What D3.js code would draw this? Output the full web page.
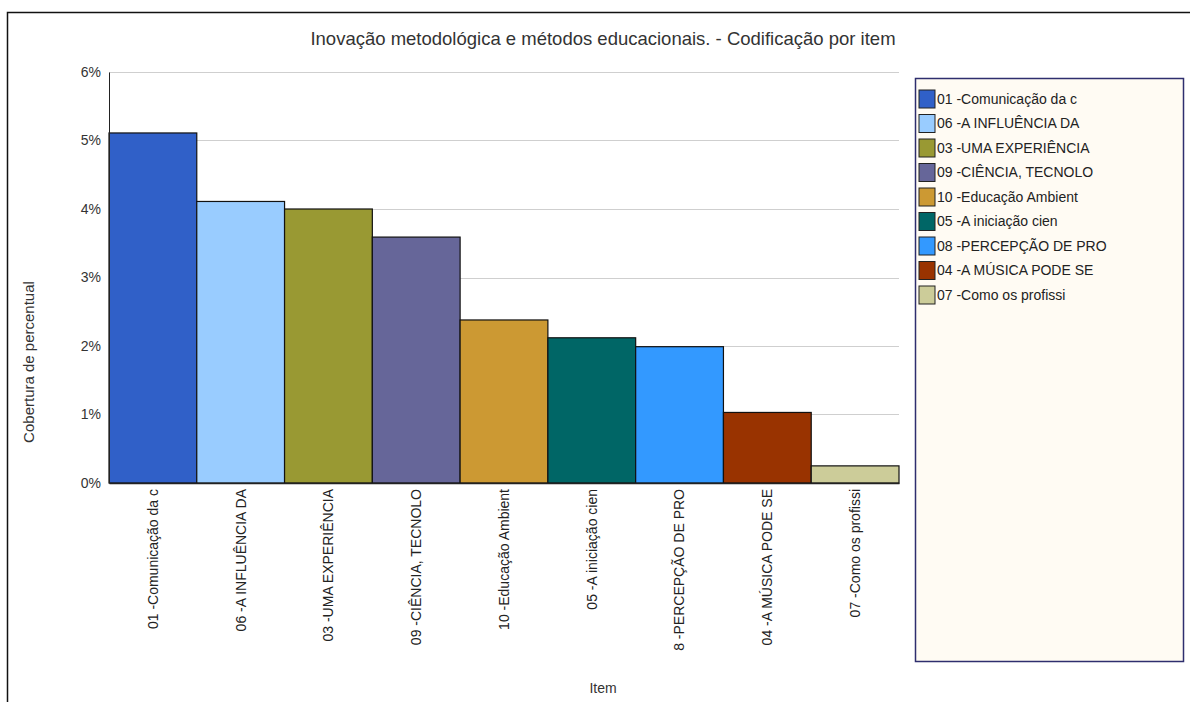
<!DOCTYPE html>
<html>
<head>
<meta charset="utf-8">
<script src="https://cdn.jsdelivr.net/npm/d3@7"></script>
<style>
  body { margin: 0; background: #fff; }
  svg { display: block; font-family: "Liberation Sans", Arial, sans-serif; }
</style>
</head>
<body>
<svg id="chart" width="1190" height="702"></svg>
<script>
var categories = ["01 -Comunicação da c", "06 -A INFLUÊNCIA DA", "03 -UMA EXPERIÊNCIA",
    "09 -CIÊNCIA, TECNOLO", "10 -Educação Ambient", "05 -A iniciação cien",
    "8 -PERCEPÇÃO DE PRO", "04 -A MÚSICA PODE SE", "07 -Como os profissi"];
var legendLabels = ["01 -Comunicação da c", "06 -A INFLUÊNCIA DA", "03 -UMA EXPERIÊNCIA",
    "09 -CIÊNCIA, TECNOLO", "10 -Educação Ambient", "05 -A iniciação cien",
    "08 -PERCEPÇÃO DE PRO", "04 -A MÚSICA PODE SE", "07 -Como os profissi"];
var values = [0.0511, 0.0411, 0.0400, 0.0359, 0.0238, 0.0212, 0.0199, 0.0103, 0.0025];
var colors = ["#3060c8", "#99ccff", "#999933", "#666699", "#cc9933", "#006666",
    "#3399ff", "#993300", "#cccc99"];
var yTicks = [0, 0.01, 0.02, 0.03, 0.04, 0.05, 0.06];

var margin = {top: 72, right: 291, bottom: 219, left: 109},
    width = 1190 - margin.left - margin.right,
    height = 702 - margin.top - margin.bottom;

var svg = d3.select("#chart");

// outer frame
svg.append("rect")
    .attr("x", 7.5).attr("y", 12.5)
    .attr("width", 1200).attr("height", 720)
    .attr("fill", "none").attr("stroke", "#111").attr("stroke-width", 1.5);

svg.append("text")
    .attr("x", 603).attr("y", 45)
    .attr("text-anchor", "middle")
    .attr("font-size", 18.5).attr("fill", "#333")
    .text("Inovação metodológica e métodos educacionais. - Codificação por item");

var x = d3.scaleBand().domain(categories).range([0, width]).padding(0);
var y = d3.scaleLinear().domain([0, 0.06]).range([height, 0]);

var g = svg.append("g").attr("transform", "translate(" + margin.left + "," + margin.top + ")");

// grid
g.selectAll("line.grid")
    .data(yTicks.slice(1))
    .enter().append("line")
    .attr("class", "grid")
    .attr("x1", 0).attr("x2", width)
    .attr("y1", function(d) { return Math.round(y(d)) + 0.5; })
    .attr("y2", function(d) { return Math.round(y(d)) + 0.5; })
    .attr("stroke", "#cfcfcf").attr("stroke-width", 1);

g.selectAll("rect.bar")
    .data(values)
    .enter().append("rect")
    .attr("class", "bar")
    .attr("x", function(d, i) { return x(categories[i]); })
    .attr("y", function(d) { return y(d); })
    .attr("width", x.bandwidth())
    .attr("height", function(d) { return height - y(d); })
    .attr("fill", function(d, i) { return colors[i]; })
    .attr("stroke", "#111").attr("stroke-width", 1.2);

var yAxis = g.append("g")
    .call(d3.axisLeft(y).tickValues(yTicks).tickFormat(d3.format(".0%")).tickSize(0).tickPadding(8));
yAxis.select(".domain").attr("stroke", "#222");
yAxis.selectAll("text").attr("font-size", 14).attr("fill", "#333")
    .attr("font-family", "Liberation Sans, Arial, sans-serif");

var xAxis = g.append("g")
    .attr("transform", "translate(0," + height + ")")
    .call(d3.axisBottom(x).tickSize(0).tickPadding(0));
xAxis.select(".domain").attr("stroke", "#222").attr("stroke-width", 1.5);
xAxis.selectAll("text")
    .attr("font-size", 14).attr("fill", "#222")
    .attr("font-family", "Liberation Sans, Arial, sans-serif")
    .attr("text-anchor", "end")
    .attr("dy", "0.35em")
    .attr("transform", "translate(0,6) rotate(-90)")
    .attr("x", 0).attr("y", 0);

svg.append("text")
    .attr("transform", "translate(34,362) rotate(-90)")
    .attr("text-anchor", "middle")
    .attr("font-size", 15).attr("fill", "#333")
    .text("Cobertura de percentual");

svg.append("text")
    .attr("x", 603).attr("y", 693)
    .attr("text-anchor", "middle")
    .attr("font-size", 14).attr("fill", "#333")
    .text("Item");

// legend
var legend = svg.append("g").attr("transform", "translate(915,78)");
legend.append("rect")
    .attr("x", 0.5).attr("y", 0.5)
    .attr("width", 268).attr("height", 583)
    .attr("fill", "#fffbf3").attr("stroke", "#2e2e6e").attr("stroke-width", 1.5);

var items = legend.selectAll("g.item")
    .data(legendLabels)
    .enter().append("g")
    .attr("class", "item")
    .attr("transform", function(d, i) { return "translate(4," + (12 + i * 24.5) + ")"; });
items.append("rect")
    .attr("width", 16).attr("height", 18)
    .attr("fill", function(d, i) { return colors[i]; })
    .attr("stroke", "#222").attr("stroke-width", 1);
items.append("text")
    .attr("x", 18).attr("y", 9).attr("dy", "0.35em")
    .attr("font-size", 14).attr("fill", "#222")
    .text(function(d) { return d; });
</script>
</body>
</html>
